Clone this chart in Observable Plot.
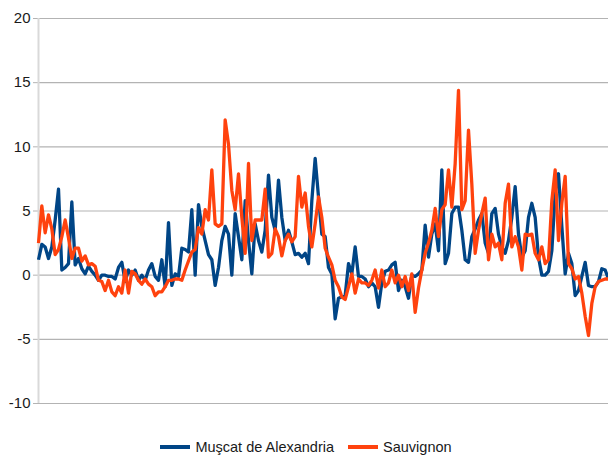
<!DOCTYPE html>
<html>
<head>
<meta charset="utf-8">
<script src="https://cdn.jsdelivr.net/npm/d3@7"></script>
<script src="https://cdn.jsdelivr.net/npm/@observablehq/plot@0.6"></script>
<style>
  html, body { margin: 0; padding: 0; background: #fff; }
  body { width: 608px; height: 459px; overflow: hidden; font-family: "Liberation Sans", Arial, sans-serif; }
  #legend { display: flex; justify-content: center; align-items: center; height: 20px; margin-top: 17px; font-size: 14.5px; color: #1a1a1a; padding-left: 4px; }
  .item { display: flex; align-items: center; margin: 0 7px; }
  .sw { width: 30px; height: 4px; margin-right: 5px; }
</style>
</head>
<body>
<div id="chart"></div>
<div id="legend"></div>
<script>
const seriesNames = ["Muşcat de Alexandria", "Sauvignon"];
const seriesColors = ["#004586", "#ff420e"];
const yTicks = [-10, -5, 0, 5, 10, 15, 20];

const muscat = [1.2,2.4,2.2,1.3,2.2,4.3,6.7,0.4,0.6,0.9,5.7,0.8,1.3,0.5,0.1,0.7,0.3,0.0,-0.4,0.0,
0.0,-0.1,-0.1,-0.3,0.6,1.0,-0.5,0.4,0.0,0.4,-0.4,0.0,-0.4,0.4,0.9,-0.1,-0.4,1.2,-0.9,4.1,
-0.8,0.1,-0.1,2.1,2.0,1.8,5.1,0.0,5.5,3.8,2.7,1.6,1.2,-0.8,0.6,2.7,3.8,3.2,0.0,4.8,
3.0,1.2,5.8,2.7,0.1,4.0,2.7,1.8,3.5,7.8,4.5,3.5,7.4,4.5,2.7,3.5,2.6,1.6,1.7,1.4,
1.7,0.9,5.8,9.1,6.1,3.2,3.0,0.6,0.1,-3.4,-1.8,-1.7,-1.6,0.9,0.1,2.2,-0.1,-0.1,-0.3,-0.9,
-0.6,-0.9,-2.5,-0.6,0.3,0.4,0.8,1.0,-1.2,-0.4,-0.9,-1.8,0.0,-0.1,0.1,0.4,3.9,1.4,3.2,4.0,
1.9,8.2,0.9,1.7,4.8,5.3,5.3,3.5,1.2,1.0,3.0,3.6,4.3,4.8,2.5,1.7,4.8,5.2,3.2,2.2,
1.7,2.7,4.5,6.9,3.2,1.4,1.9,4.5,5.6,4.5,1.4,0.0,0.0,0.3,1.9,6.4,7.9,3.8,0.1,1.7,
0.9,-1.6,-1.2,-0.1,1.0,-0.8,-0.9,-0.9,-0.5,0.5,0.4,-0.3];

const sauvignon = [2.5,5.4,3.3,4.7,3.6,1.6,2.0,3.0,4.3,2.9,1.3,2.1,2.1,1.1,1.5,0.8,0.9,0.7,-0.4,-0.5,
-1.2,-0.4,-1.3,-1.6,-0.9,-1.4,0.4,-1.4,0.3,0.1,-0.4,-0.7,-0.3,-0.7,-0.9,-1.6,-1.3,-1.3,-0.9,-0.4,
-0.4,-0.3,-0.3,-0.4,0.4,1.1,1.8,2.0,3.7,3.2,5.1,4.3,8.2,4.0,3.8,4.0,12.1,10.2,6.6,5.1,
7.9,4.5,1.7,8.7,2.7,4.3,4.3,4.3,6.7,1.4,1.7,3.6,3.0,1.5,2.7,3.2,2.6,3.0,7.7,5.3,
6.4,3.8,2.2,4.0,6.1,4.5,2.1,1.4,0.8,-0.4,-0.9,-1.7,-1.9,-0.9,0.1,-1.4,-0.3,-0.6,-0.6,-0.8,
-0.4,0.4,-1.0,0.4,-0.9,-0.6,0.4,-0.6,0.0,-0.9,-0.1,-1.2,0.1,-2.9,-1.0,0.4,1.7,2.5,3.5,5.2,
3.0,5.1,5.5,8.2,5.3,8.7,14.4,5.1,5.8,11.3,7.1,1.7,3.5,4.8,6.0,1.2,3.2,2.2,2.5,1.2,
5.6,7.1,2.2,3.0,2.2,0.4,3.2,3.1,3.2,1.7,1.2,2.2,0.9,1.2,5.8,8.2,2.7,5.6,7.7,0.9,
0.5,-0.3,-0.1,-1.4,-3.2,-4.7,-2.2,-0.9,-0.5,-0.4,-0.3,-0.3];

const rows = [];
[muscat, sauvignon].forEach((arr, s) => arr.forEach((v, i) => rows.push({i, v, s: seriesNames[s]})));

const chart = Plot.plot({
  width: 608,
  height: 420,
  marginLeft: 38,
  marginRight: 0,
  marginTop: 18,
  marginBottom: 17,
  style: {fontFamily: '"Liberation Sans", Arial, sans-serif', fontSize: "15px", color: "#1a1a1a", background: "#fff"},
  x: {axis: null, domain: [0, muscat.length - 1]},
  y: {domain: [-10, 20]},
  color: {domain: seriesNames, range: seriesColors},
  marks: [
    Plot.ruleY(yTicks, {stroke: "#b3b3b3", strokeWidth: 1.2, strokeOpacity: 1}),
    Plot.axisY({ticks: yTicks, tickFormat: d => String(d), tickSize: 5, tickPadding: 3, stroke: "#b3b3b3", strokeOpacity: 1, label: null, fontSize: 15}),
    Plot.ruleX([0], {stroke: "#d9d9d9", strokeWidth: 2}),
    Plot.line(rows, {x: "i", y: "v", z: "s", stroke: "s", strokeWidth: 3.3, strokeLinejoin: "round", strokeLinecap: "butt"})
  ]
});
document.getElementById("chart").appendChild(chart);

const legend = document.getElementById("legend");
seriesNames.forEach((name, k) => {
  const item = document.createElement("div");
  item.className = "item";
  const sw = document.createElement("div");
  sw.className = "sw";
  sw.style.background = seriesColors[k];
  const t = document.createElement("span");
  t.textContent = name;
  item.appendChild(sw);
  item.appendChild(t);
  legend.appendChild(item);
});
</script>
</body>
</html>
